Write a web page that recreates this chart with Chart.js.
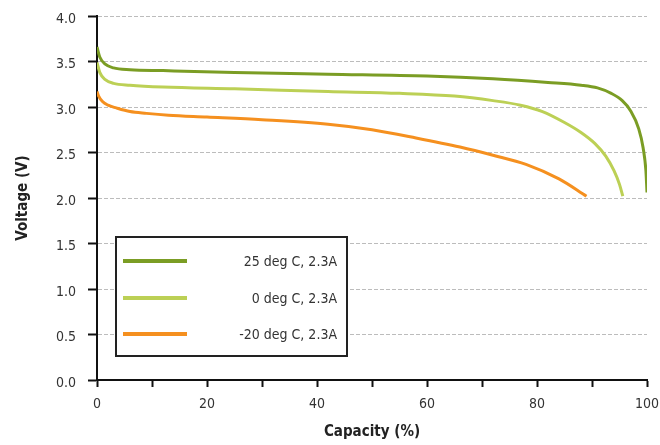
<!DOCTYPE html>
<html lang="en">
<head>
    <meta charset="UTF-8">
    <title>Discharge curves</title>
    <script src="https://cdn.jsdelivr.net/npm/chart.js@4.4.0/dist/chart.umd.min.js"></script>
    <style>
        * { margin: 0; padding: 0; box-sizing: border-box; }
        body { background: #fff; }
        .chart-box { width: 660px; height: 445px; position: relative; }
    </style>
</head>
<body>
    <div class="chart-box">
        <canvas id="dischargeChart"></canvas>
    </div>

    <script>
        // Curves: capacity (%) and voltage (V)
        const cap25 = [0, 0.5, 1.5, 3, 6, 12, 25, 42, 60, 72, 82, 88, 91, 93.5, 95.5, 97, 98.5, 99.3, 99.8, 100];
        const volt25 = [3.66, 3.55, 3.47, 3.43, 3.41, 3.40, 3.38, 3.36, 3.34, 3.31, 3.27, 3.24, 3.21, 3.15, 3.07, 2.96, 2.76, 2.55, 2.30, 2.06];

        const cap0 = [0, 0.5, 1.5, 3, 6, 12, 25, 42, 55, 65, 72, 77, 81, 85, 88, 90.5, 92.5, 94, 95, 95.6];
        const volt0 = [3.49, 3.38, 3.30, 3.26, 3.24, 3.22, 3.20, 3.17, 3.15, 3.12, 3.07, 3.02, 2.95, 2.83, 2.72, 2.60, 2.46, 2.30, 2.15, 2.02];

        const capM20 = [0, 0.3, 1, 2, 3.5, 6, 9, 13, 20, 30, 42, 50, 58, 66, 72, 78, 84, 89];
        const voltM20 = [3.17, 3.12, 3.06, 3.02, 2.99, 2.95, 2.93, 2.91, 2.89, 2.86, 2.81, 2.75, 2.66, 2.56, 2.47, 2.37, 2.21, 2.02];

        const seriesLabels = ['25 deg C, 2.3A', '0 deg C, 2.3A', '-20 deg C, 2.3A'];
        const seriesColors = ['#7b9d24', '#bcd055', '#f5901f'];

        const FONT = '"DejaVu Sans Condensed", "Liberation Sans Narrow", "DejaVu Sans", sans-serif';

        function toPoints(xs, ys) {
            return xs.map((x, i) => ({ x: x, y: ys[i] }));
        }

        // Boxed legend sitting inside the plot, lower left
        const boxLegend = {
            id: 'boxLegend',
            afterDraw(chart) {
                const ctx = chart.ctx;
                const left = 116, top = 237, right = 347, bottom = 356;
                const rows = [261, 298, 334];
                ctx.save();
                ctx.fillStyle = '#fff';
                ctx.fillRect(left, top, right - left, bottom - top);
                ctx.strokeStyle = '#222';
                ctx.lineWidth = 2;
                ctx.strokeRect(left, top, right - left, bottom - top);
                chart.data.datasets.forEach((ds, i) => {
                    ctx.strokeStyle = ds.borderColor;
                    ctx.lineWidth = 4;
                    ctx.beginPath();
                    ctx.moveTo(123, rows[i]);
                    ctx.lineTo(187, rows[i]);
                    ctx.stroke();
                    ctx.fillStyle = '#333';
                    ctx.font = '14px ' + FONT;
                    ctx.textAlign = 'right';
                    ctx.textBaseline = 'middle';
                    ctx.fillText(ds.label, 337, rows[i] + 1);
                });
                ctx.restore();
            }
        };

        const datasets = [
            toPoints(cap25, volt25),
            toPoints(cap0, volt0),
            toPoints(capM20, voltM20)
        ].map((pts, i) => ({
            label: seriesLabels[i],
            data: pts,
            borderColor: seriesColors[i],
            borderWidth: 3,
            pointRadius: 0,
            fill: false,
            tension: 0.3,
            cubicInterpolationMode: 'monotone'
        }));

        new Chart(document.getElementById('dischargeChart'), {
            type: 'line',
            data: { datasets: datasets },
            options: {
                responsive: true,
                maintainAspectRatio: false,
                animation: false,
                layout: { padding: { top: 16, right: 13, left: 0, bottom: 0 } },
                plugins: {
                    legend: { display: false },
                    tooltip: { enabled: false }
                },
                scales: {
                    x: {
                        type: 'linear',
                        min: 0,
                        max: 100,
                        afterFit(scale) {
                            scale.height = 65;
                            scale.paddingLeft = 0;
                            scale.paddingRight = 0;
                        },
                        ticks: {
                            stepSize: 10,
                            autoSkip: false,
                            maxRotation: 0,
                            padding: 9,
                            color: '#333',
                            font: { family: FONT, size: 14 },
                            callback: v => (v % 20 === 0 ? v : '')
                        },
                        grid: {
                            display: true,
                            drawOnChartArea: false,
                            drawTicks: true,
                            tickLength: 7,
                            tickWidth: 2,
                            tickColor: '#111'
                        },
                        border: { display: true, color: '#111', width: 2 },
                        title: {
                            display: true,
                            text: 'Capacity (%)',
                            color: '#222',
                            font: { family: FONT, size: 15, weight: 'bold' },
                            padding: { top: 0, bottom: 4 }
                        }
                    },
                    y: {
                        min: 0,
                        max: 4,
                        afterFit(scale) {
                            scale.width = 97;
                            scale.paddingTop = 0;
                            scale.paddingBottom = 0;
                        },
                        ticks: {
                            stepSize: 0.5,
                            padding: 12,
                            labelOffset: 3,
                            color: '#333',
                            font: { family: FONT, size: 14 },
                            callback: v => v.toFixed(1)
                        },
                        grid: {
                            color: c => (c.tick && c.tick.value === 0 ? 'rgba(0,0,0,0)' : '#bcbcbc'),
                            lineWidth: 1,
                            drawTicks: true,
                            tickLength: 9,
                            tickWidth: 2,
                            tickColor: '#111'
                        },
                        border: { display: true, color: '#111', width: 2, dash: [4, 2] },
                        title: {
                            display: true,
                            text: 'Voltage (V)',
                            color: '#222',
                            font: { family: FONT, size: 15, weight: 'bold' },
                            padding: { top: 14, bottom: 0 }
                        }
                    }
                }
            },
            plugins: [boxLegend]
        });
    </script>
</body>
</html>
